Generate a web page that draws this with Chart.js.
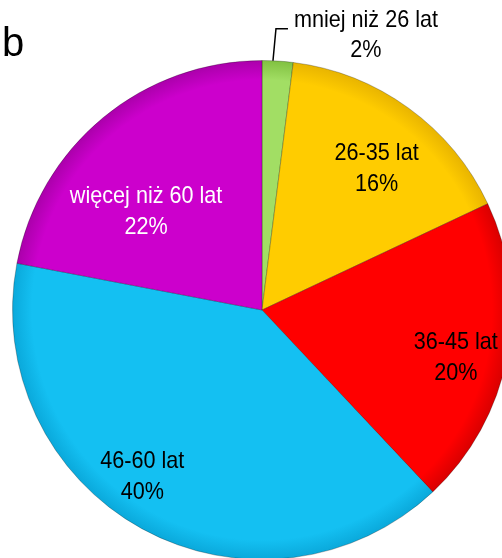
<!DOCTYPE html>
<html>
<head>
<meta charset="utf-8">
<script src="https://cdn.jsdelivr.net/npm/chart.js@4/dist/chart.umd.min.js"></script>
<style>
    html, body { margin: 0; padding: 0; background: #fff; overflow: hidden; }
    #wrap { position: relative; width: 502px; height: 558px; overflow: hidden; }
    #pie { position: absolute; left: 0; top: 0; }
    #letter { position: absolute; left: 2px; top: 20px; font: 40px "Liberation Sans", Arial, sans-serif; color: #000; }
</style>
</head>
<body>
<div id="wrap">
    <canvas id="pie" width="512" height="562"></canvas>
    <div id="letter">b</div>
</div>
<script>
// ============================================
// STRUKTURA WIEKU - PIE
// ============================================

const categories = ['mniej niż 26 lat', '26-35 lat', '36-45 lat', '46-60 lat', 'więcej niż 60 lat'];
const shares = [2, 16, 20, 40, 22];
const sliceColors = ['#a2de64', '#ffcc00', '#ff0000', '#14c0f2', '#cc00cc'];
const edgeColors = ['#80c040', '#e8b400', '#d80000', '#0aa8da', '#aa00aa'];
const textColors = ['#000', '#000', '#000', '#000', '#fff'];
// label anchor: fraction of radius, angle shift (deg) from slice middle
const labelRadius = [0, 0.73, 0.80, 0.82, 0.61];
const labelShift = [0, 3, 3, 7, -10];

const FONT = '"Liberation Sans Narrow", "Arial Narrow", "Liberation Sans", sans-serif';

document.addEventListener('DOMContentLoaded', function() {
    initPieChart();
});

function sliceFill(context) {
    const i = context.dataIndex;
    const chart = context.chart;
    const area = chart.chartArea;
    if (!area) return sliceColors[i];
    const cx = (area.left + area.right) / 2;
    const cy = (area.top + area.bottom) / 2;
    const r = Math.min(area.right - area.left, area.bottom - area.top) / 2;
    const g = chart.ctx.createRadialGradient(cx, cy, 0, cx, cy, r);
    g.addColorStop(0, sliceColors[i]);
    g.addColorStop(0.92, sliceColors[i]);
    g.addColorStop(1, edgeColors[i]);
    return g;
}

// narrow text: draw horizontally squeezed
function narrowText(ctx, text, x, y) {
    ctx.save();
    ctx.translate(x, y);
    ctx.scale(0.9, 1);
    ctx.fillText(text, 0, 0);
    ctx.restore();
}

const labelPlugin = {
    id: 'sliceLabels',
    afterDatasetsDraw(chart) {
        const ctx = chart.ctx;
        const arcs = chart.getDatasetMeta(0).data;
        ctx.save();
        ctx.font = '24px ' + FONT;
        ctx.textAlign = 'center';
        ctx.textBaseline = 'middle';
        arcs.forEach(function(arc, i) {
            const p = arc.getProps(['x', 'y', 'startAngle', 'endAngle', 'outerRadius']);
            const pct = shares[i] + '%';
            if (i === 0) {
                // leader line to outside label
                const a = p.startAngle + (p.endAngle - p.startAngle) * 0.35;
                const sx = p.x + Math.cos(a) * p.outerRadius;
                const sy = p.y + Math.sin(a) * p.outerRadius;
                ctx.strokeStyle = '#000';
                ctx.lineWidth = 1.5;
                ctx.beginPath();
                ctx.moveTo(sx, sy);
                ctx.lineTo(sx + 3, sy - 32);
                ctx.lineTo(sx + 15, sy - 32);
                ctx.stroke();
                ctx.fillStyle = textColors[i];
                narrowText(ctx, categories[i], sx + 93, sy - 40);
                narrowText(ctx, pct, sx + 93, sy - 10);
                return;
            }
            const mid = (p.startAngle + p.endAngle) / 2 + labelShift[i] * Math.PI / 180;
            const lx = p.x + Math.cos(mid) * p.outerRadius * labelRadius[i];
            const ly = p.y + Math.sin(mid) * p.outerRadius * labelRadius[i];
            ctx.fillStyle = textColors[i];
            narrowText(ctx, categories[i], lx, ly - 15);
            narrowText(ctx, pct, lx, ly + 16);
        });
        ctx.restore();
    }
};

function initPieChart() {
    const canvas = document.getElementById('pie');
    if (!canvas) return;

    const ctx = canvas.getContext('2d');

    new Chart(ctx, {
        type: 'pie',
        data: {
            labels: categories,
            datasets: [{
                data: shares,
                backgroundColor: sliceFill,
                borderColor: 'rgba(0,0,0,0.25)',
                borderWidth: 1
            }]
        },
        options: {
            responsive: false,
            animation: false,
            layout: { padding: { left: 12, top: 60, right: 0, bottom: 2 } },
            plugins: {
                legend: { display: false },
                tooltip: { enabled: false }
            }
        },
        plugins: [labelPlugin]
    });
}
</script>
</body>
</html>
